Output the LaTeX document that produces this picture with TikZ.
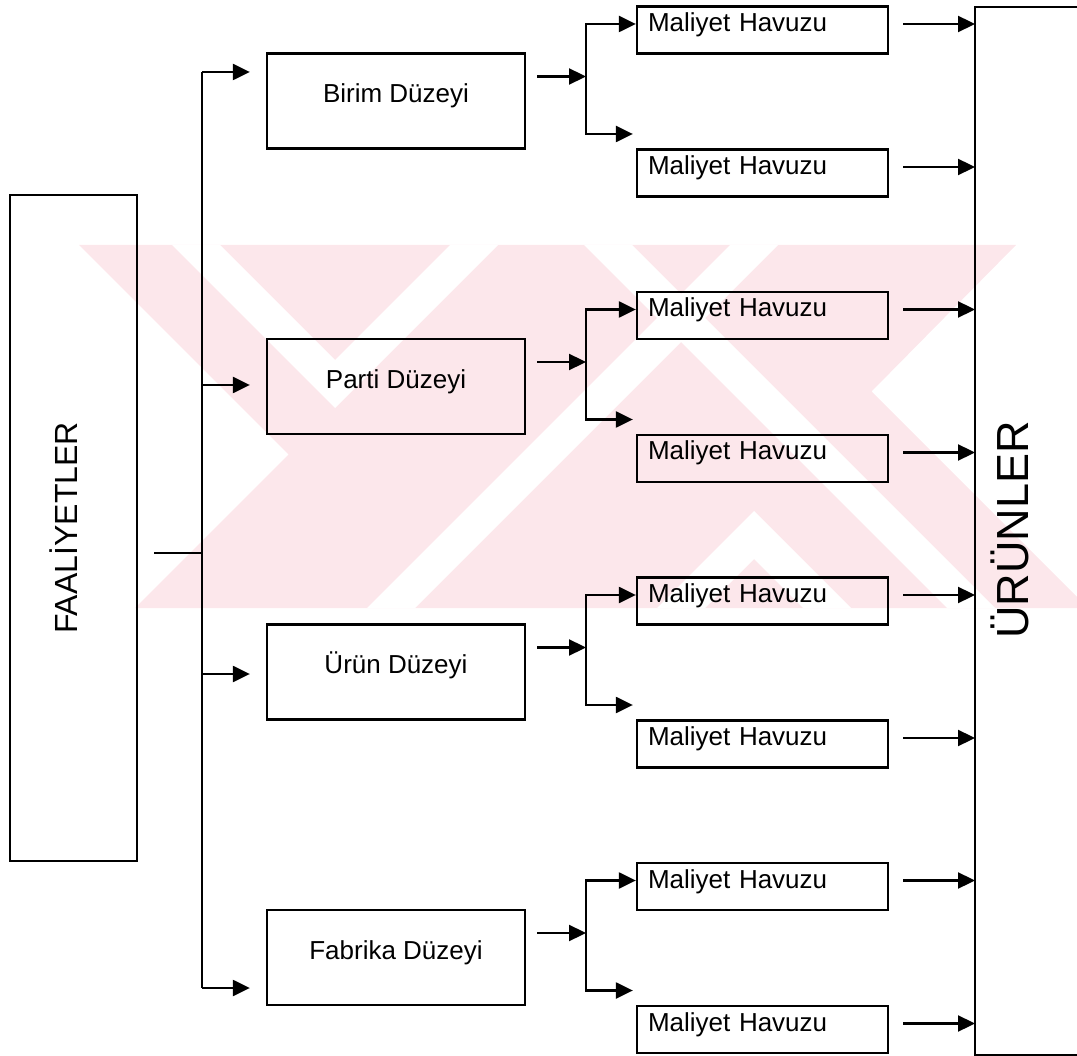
\documentclass[tikz,border=0pt]{standalone}
\usepackage{fontspec}
\setmainfont{Liberation Sans}
\usetikzlibrary{arrows.meta,calc}
\definecolor{stamp}{RGB}{252,231,235}
\begin{document}
\begin{tikzpicture}[x=1pt,y=-1pt,line width=2.3pt,
  lev/.style={draw,minimum width=258pt,minimum height=95pt,inner sep=0pt,
    font=\fontsize{26pt}{30pt}\selectfont,text height=20pt,text depth=16.8pt},
  pool/.style={draw,minimum width=251pt,minimum height=47pt,inner xsep=11pt,
    inner ysep=0pt,text width=229pt,align=left,
    font=\fontsize{26pt}{30pt}\selectfont,text height=20pt,text depth=17pt},
  tall/.style={inner sep=0pt},
  tip/.tip={Triangle[length=17pt,width=16pt]},
  arr/.style={-tip},
  dbl/.style={tip-tip},
  stripe/.style={fill=white,draw=none},
]
\useasboundingbox (0,0) rectangle (1077,1056);
\clip (0,0) rectangle (1077,1056);

% background stamp: pink band with white chevrons
\fill[stamp] (79,245) -- (1016,245) -- (871.5,391.5) -- (1077,597) -- (1077,608)
  -- (135,608) -- (288.5,454.5) -- cycle;
\fill[stripe] (172,245) -- (220,245) -- (335,360) -- (450,245) -- (498,245) -- (335,408) -- cycle;
\fill[stripe] (754,511) -- (851,608) -- (803,608) -- (754,559) -- (705,608) -- (657,608) -- cycle;
\fill[stripe] (584,245) -- (632,245) -- (995,608) -- (947,608) -- cycle;
\fill[stripe] (730,245) -- (778,245) -- (415,608) -- (367,608) -- cycle;

% side columns
\node[tall,draw,minimum width=127pt,minimum height=666pt] (faal) at (73.5,528) {};
\node[rotate=90,anchor=base,font=\fontsize{32pt}{38pt}\selectfont] (faal-lbl) at (77,528) {FAALİYETLER};
\node[tall,anchor=north west,minimum width=400pt,minimum height=1046pt] (urunler) at (975,7) {};
\draw (urunler.north east) -- (urunler.north west) -- (urunler.south west) -- (urunler.south east);
\node[rotate=90,anchor=base,font=\fontsize{45pt}{54pt}\selectfont] (urunler-lbl) at (1028,530) {ÜRÜNLER};

% four levels, each feeding two cost pools
\foreach \g/\name/\txt/\off in {0/birim/Birim Düzeyi/-29,1/parti/Parti Düzeyi/-1.5,
                               2/urun/Ürün Düzeyi/2,3/fabrika/Fabrika Düzeyi/30.5}{
  \pgfmathsetmacro\c{101+285.5*\g}
  \node[lev] (\name) at (396,\c) {\txt};
  \node[pool] (\name-a) at (762.5,\c-71) {Maliyet Havuzu};
  \node[pool] (\name-b) at (762.5,\c+72) {Maliyet Havuzu};
  % entry from the trunk
  \coordinate (\name-in) at (202,\c+\off);
  \draw[arr] (\name-in) -- ($(\name.west |- \name-in)+(-16,0)$);
  % split towards the pools
  \coordinate (\name-j) at (586,\c-24.5);
  \coordinate (\name-t) at (586,\c-77);
  \coordinate (\name-u) at (586,\c+33);
  \draw[arr] ($(\name.east |- \name-j)+(11,0)$) -- (\name-j);
  \draw[dbl] (\name-a.west |- \name-t) -- (\name-t) -- (\name-u)
             -- ($(\name-b.west |- \name-u)+(-3,0)$);
  % pools into the products column
  \draw[arr] ($(\name-a.east)+(14,-6)$) -- ($(\name-a.east -| urunler.west)+(0,-6)$);
  \draw[arr] ($(\name-b.east)+(14,-6)$) -- ($(\name-b.east -| urunler.west)+(0,-6)$);
}

% trunk from the activities column
\draw (birim-in) -- (fabrika-in);
\coordinate (faal-out) at ($(faal.east)+(16,25)$);
\draw (faal-out) -- (faal-out -| birim-in);
\end{tikzpicture}
\end{document}
